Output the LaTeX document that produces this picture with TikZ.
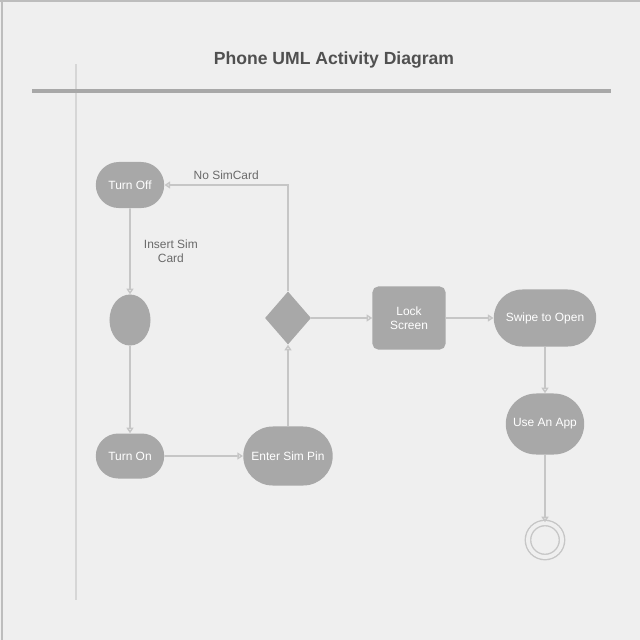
\documentclass[tikz,border=0pt]{standalone}
\usepackage{fontspec}
\setmainfont{Liberation Sans}
\usepackage{xcolor}
\usetikzlibrary{arrows.meta,shapes.geometric,shapes.misc}
\definecolor{bgc}{HTML}{EFEFEF}
\definecolor{framec}{HTML}{BDBDBD}
\definecolor{actc}{HTML}{A8A8A8}
\definecolor{linec}{HTML}{C6C6C6}
\definecolor{lanec}{HTML}{D6D6D6}
\definecolor{titlec}{HTML}{505050}
\definecolor{labelc}{HTML}{6A6A6A}
\begin{document}
\begin{tikzpicture}[x=0.025cm,y=-0.025cm,
  pill/.style={rounded rectangle,fill=actc,text=white,inner sep=2pt,font=\fontsize{8.5}{10}\selectfont},
  actbox/.style={rectangle,rounded corners=4pt,fill=actc,text=white,align=center,font=\fontsize{8.5}{10}\selectfont},
  flow/.style={draw=linec,line width=1.2pt,-{Triangle[open,length=4pt,width=5pt]}},
  flowlabel/.style={text=labelc,font=\fontsize{8.5}{10}\selectfont,align=center}]
  \useasboundingbox (0,0) rectangle (640,640);
  \fill[bgc] (0,0) rectangle (640,640);
  \draw[framec,line width=1.5pt] (0,1) -- (640,1);
  \draw[framec,line width=1.5pt] (2,0) -- (2,640);
  \draw[lanec,line width=2pt] (76,64) -- (76,600);
  \draw[actc,line width=2.6pt] (32,91) -- (611,91);
  \node[text=titlec,font=\fontsize{12.5}{15}\selectfont\bfseries] (title) at (334,60) {Phone UML Activity Diagram};
  \node[pill,minimum width=1.85cm,minimum height=1.15cm] (off) at (130,185) {Turn Off};
  \node[ellipse,fill=actc,minimum width=1.025cm,minimum height=1.275cm] (fork) at (130,320) {};
  \node[pill,minimum width=1.85cm,minimum height=1.125cm] (on) at (130,456) {Turn On};
  \node[pill,minimum width=2.375cm,minimum height=1.475cm] (pin) at (288,456) {Enter Sim Pin};
  \node[diamond,fill=actc,minimum width=1.15cm,minimum height=1.325cm,inner sep=0pt] (dec) at (288,318) {};
  \node[actbox,minimum width=1.825cm,minimum height=1.575cm] (lock) at (409,318) {Lock\\Screen};
  \node[pill,minimum width=2.7cm,minimum height=1.425cm] (swipe) at (545,318) {Swipe to Open};
  \node[pill,minimum width=2.1cm,minimum height=1.525cm] (app) at (545,424) {Use An App};
  \node[circle,draw=linec,line width=1pt,double=bgc,double distance=2.8pt,minimum size=0.85cm] (stop) at (545,540) {};
  \draw[flow] (off) -- node[flowlabel,right=6pt] {Insert Sim\\Card} (fork);
  \draw[flow] (fork) -- (on);
  \draw[flow] (on) -- (pin);
  \draw[flow] (pin) -- (dec);
  \draw[flow] (dec.north) |- node[flowlabel,above,pos=0.75] {No SimCard} (off.east);
  \draw[flow] (dec) -- (lock);
  \draw[flow] (lock) -- (swipe);
  \draw[flow] (swipe) -- (app);
  \draw[flow] (app) -- (stop);
\end{tikzpicture}
\end{document}
